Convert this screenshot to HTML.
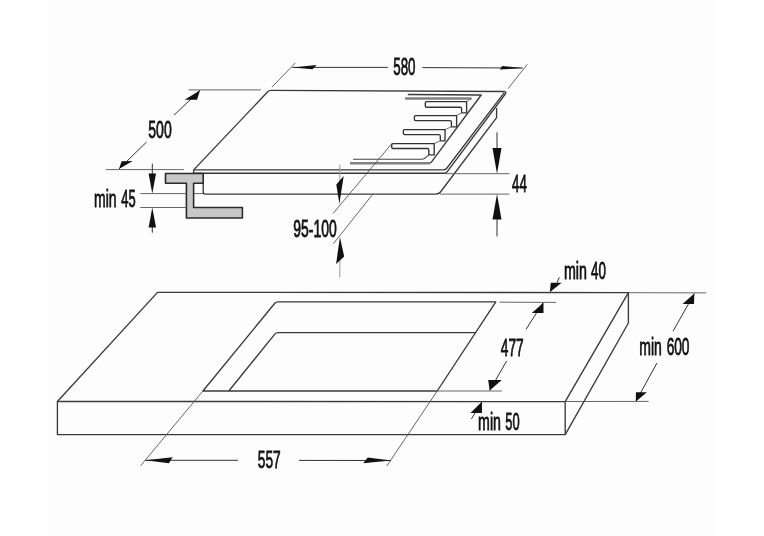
<!DOCTYPE html>
<html><head><meta charset="utf-8">
<style>
html,body{margin:0;padding:0;background:#fff;}
svg{display:block;}
text{font-family:"Liberation Sans",sans-serif;fill:#111;stroke:#111;stroke-width:0.85;}
</style></head>
<body>
<svg width="764" height="536" viewBox="0 0 764 536">
<rect width="764" height="536" fill="#fff"/>
<rect x="48" y="0" width="667" height="536" fill="#fdfdfd"/>
<g fill="none" stroke-linecap="butt" stroke-linejoin="round">

<!-- ===== HOB ===== -->
<!-- glass top surface -->
<path d="M442.5,169.9 L193.7,169.9 L267.5,92 Q269,90.3 271,90.3 L503.5,91.5 Q506.8,91.6 505.3,94 L447.5,171.3 Q446.2,173.2 443.5,173.2 L193.6,173.2 L193.6,169.9" stroke="#3a3a3a" stroke-width="1.35"/>
<path d="M504.2,92.6 L446.6,168.5 Q445.4,170 442.5,169.9" stroke="#3a3a3a" stroke-width="1.3"/>
<!-- frame -->
<path d="M203.2,173.5 L203.2,192.1 Q203.2,194.1 205.2,194.1 L436,194.1 Q439,194.1 440.5,192 L496.6,117.7 L496.6,108" stroke="#3a3a3a" stroke-width="1.35"/>
<!-- control panel border -->
<path d="M407.8,94.5 L481.2,95 L431.2,162.4 Q430.5,163.2 429,163.2" stroke="#3a3a3a" stroke-width="1.35"/>
<path d="M350,163.3 L429.5,163.3" stroke="#808080" stroke-width="2.4"/>
<path d="M405,98.5 L471.5,98.5" stroke="#808080" stroke-width="2.4"/>
<path d="M471.5,98.5 L466.6,101.6" stroke="#777" stroke-width="1"/>
<path d="M466.6,101.6 L426.6,101.6 Q425.3,101.6 425.3,102.9 L425.3,105.9 Q425.3,107.2 426.6,107.2 L460.1,107.2 Q461.6,107.2 461.6,108.7 L461.6,112.9 L466.6,112.9 Z" stroke="#333" stroke-width="1.35"/>
<path d="M461.6,112.9 L456.6,115.6" stroke="#777" stroke-width="1"/>
<path d="M456.6,115.6 L415.7,115.6 Q414.4,115.6 414.4,116.9 L414.4,119.3 Q414.4,120.6 415.7,120.6 L449.9,120.6 Q451.4,120.6 451.4,122.1 L451.4,126.8 L456.6,126.8 Z" stroke="#333" stroke-width="1.35"/>
<path d="M451.4,126.8 L445.0,129.6" stroke="#777" stroke-width="1"/>
<path d="M445.0,129.6 L404.6,129.6 Q403.3,129.6 403.3,130.9 L403.3,133.3 Q403.3,134.6 404.6,134.6 L438.8,134.6 Q440.3,134.6 440.3,136.1 L440.3,140.9 L445.0,140.9 Z" stroke="#333" stroke-width="1.35"/>
<path d="M440.3,140.9 L434.2,143.6" stroke="#777" stroke-width="1"/>
<path d="M434.2,143.6 L393.0,143.6 Q391.7,143.6 391.7,144.9 L391.7,147.2 Q391.7,148.5 393.0,148.5 L427.3,148.5 Q428.8,148.5 428.8,150.0 L428.8,154.9 L434.2,154.9 Z" stroke="#333" stroke-width="1.35"/>
<path d="M428.8,154.9 L425.5,157.6 Q424.3,159.2 422,159.2 L353,159.2" stroke="#444" stroke-width="1.1"/>

<!-- bracket -->
<path d="M165.5,173.5 L203.2,173.5 L203.2,183.3 L193.6,183.3 L193.6,207.5 L242.4,207.5 L242.4,218 L186.4,218 L186.4,183.3 L165.5,183.3 Z" fill="#c8c8c8" stroke="#2a2a2a" stroke-width="1.6"/>

<!-- extension lines (thin) -->
<g stroke="#555" stroke-width="0.9">
<path d="M188.6,89.9 L260.9,89.9"/>
<path d="M105.9,169.6 L183.8,169.6"/>
<path d="M271.9,87.2 L295.4,62.9"/>
<path d="M508,88.7 L527.3,64.3"/>
<path d="M140.3,193.6 L186.4,193.6"/><path d="M193.6,193.6 L203,193.6"/>
<path d="M140.3,207.5 L186.4,207.5"/>
<path d="M445,173.7 L509.4,173.7"/>
<path d="M440,194.1 L509.4,194.1"/>
<path d="M333,213.5 L391.8,143.6"/>
<path d="M333.4,243.7 L373.2,193.7"/>
</g>
<!-- dimension lines -->
<g stroke="#333" stroke-width="1">
<path d="M292.3,67.4 L387.9,67.4"/>
<path d="M422.4,67.6 L522.7,68"/>
<path d="M200.1,90.3 L174,115.2"/>
<path d="M146.5,142.1 L119,168.9"/>
<path d="M152.3,163.6 L152.3,175"/>
<path d="M152.3,225 L152.3,232.7"/>
<path d="M339.8,164.5 L339.8,182" stroke="#999"/>
<path d="M339.8,260 L339.8,277.3" stroke="#999"/>
<path d="M497,132.3 L497,150"/>
<path d="M497,215 L497,236.4"/>
</g>
<!-- arrowheads -->
<g fill="#111" stroke="none">
<path d="M292.3,67.4 L316.7,65.1 L312.5,69.2 Z"/>
<path d="M522.7,68 L502.3,66 L499.8,69.6 Z"/>
<path d="M200.1,90.3 L184.7,99.8 L197,99.8 Z"/>
<path d="M119,168.9 L121.6,161.2 L132.7,161 Z"/>
<path d="M152.3,193.4 L148.6,173.4 L156,173.4 Z"/>
<path d="M152.3,207.5 L148.6,227.5 L156,227.5 Z"/>
<path d="M339.4,203.8 L336.3,184.4 L343.7,176 Z"/>
<path d="M339.9,237 L336.1,264 L344.2,256.6 Z"/>
<path d="M497,173.7 L492.5,148 L501.5,148 Z"/>
<path d="M497,194.1 L492.5,219.6 L501.5,219.6 Z"/>
</g>

<!-- ===== COUNTERTOP ===== -->
<g stroke="#3a3a3a" stroke-width="1.35">
<path d="M157.5,292.4 L628.4,292.6 L628.4,323 L565.2,434.6 L57.4,434.6 L57.4,401.5 Z"/>
<path d="M57.4,401.5 L565.2,401.6 L628.4,292.6"/>
<path d="M565.2,401.6 L565.2,434.6"/>
<!-- cutout -->
<path d="M202.9,391 L274.8,303.3 Q276,301.8 278,301.8 L495.8,301.8 L437.2,391 Z"/>
<path d="M228.8,391 L274.8,334.1 Q276,332.6 278,332.6 L475.6,332.6"/>
</g>
<g stroke="#555" stroke-width="0.9">
<path d="M202.9,391 L140.5,465.9"/>
<path d="M437.2,391 L386.8,466"/>
<path d="M499.4,302.2 L556,302.4"/>
<path d="M437.2,391 L501.8,391"/>
<path d="M628.4,292.7 L706.1,292.9"/>
<path d="M565.2,401.5 L648.7,401.4"/>
</g>
<g stroke="#333" stroke-width="1">
<path d="M543,302.7 L526,329.4"/>
<path d="M506.7,360.9 L489.7,390.5"/>
<path d="M557,282.7 L559.3,277.3"/>
<path d="M694.3,293.6 L673,331.3"/>
<path d="M657,362.9 L635.9,401.4"/>
<path d="M481.9,401.8 L471.4,419"/>
<path d="M145.2,460.3 L238,460.3"/>
<path d="M299,460.4 L391,460.5"/>
</g>
<g fill="#111" stroke="none">
<path d="M543.5,302.8 L531.8,313 L543.5,313 Z"/>
<path d="M489.7,390.5 L488.2,380 L501.8,380 Z"/>
<path d="M549.8,292.3 L550.8,282.7 L561.6,282.7 Z"/>
<path d="M694.3,293.6 L682.5,304 L694,304 Z"/>
<path d="M635.9,401.4 L635.9,392.2 L646.9,392.2 Z"/>
<path d="M481.9,401.8 L470.4,413 L482,413 Z"/>
<path d="M145.3,460.2 L172.6,457.2 L168.9,463.2 Z"/>
<path d="M391,460.5 L367.7,457.5 L363.2,463.2 Z"/>
</g>
</g>

<!-- ===== TEXT ===== -->
<g font-size="24.6" style="will-change:transform">
<text x="393.22" y="74.70" textLength="22.23" lengthAdjust="spacingAndGlyphs">580</text>
<text x="148.32" y="137.70" textLength="23.41" lengthAdjust="spacingAndGlyphs">500</text>
<text x="94.05" y="207.20" textLength="22.56" lengthAdjust="spacingAndGlyphs">min</text>
<text x="121.31" y="207.20" textLength="14.35" lengthAdjust="spacingAndGlyphs">45</text>
<text x="293.33" y="236.60" textLength="43.47" lengthAdjust="spacingAndGlyphs">95-100</text>
<text x="512.03" y="191.80" textLength="14.76" lengthAdjust="spacingAndGlyphs">44</text>
<text x="563.95" y="278.50" textLength="23.00" lengthAdjust="spacingAndGlyphs">min</text>
<text x="591.03" y="278.50" textLength="14.88" lengthAdjust="spacingAndGlyphs">40</text>
<text x="500.81" y="355.80" textLength="22.87" lengthAdjust="spacingAndGlyphs">477</text>
<text x="639.34" y="355.40" textLength="22.56" lengthAdjust="spacingAndGlyphs">min</text>
<text x="666.64" y="355.40" textLength="22.87" lengthAdjust="spacingAndGlyphs">600</text>
<text x="478.09" y="429.50" textLength="22.84" lengthAdjust="spacingAndGlyphs">min</text>
<text x="505.25" y="429.50" textLength="14.37" lengthAdjust="spacingAndGlyphs">50</text>
<text x="257.84" y="468.00" textLength="22.88" lengthAdjust="spacingAndGlyphs">557</text>
</g>
</svg>
</body></html>
